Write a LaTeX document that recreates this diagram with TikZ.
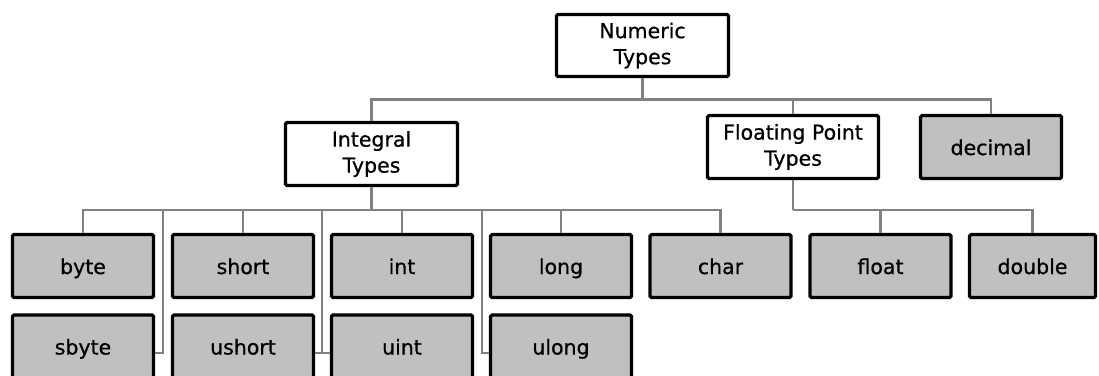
\documentclass[tikz,border=0pt]{standalone}
\usepackage{fontspec}
\setmainfont{DejaVu Sans}[FakeBold=0.7]
\definecolor{leafgray}{RGB}{192,192,192}
\definecolor{linkgray}{RGB}{128,128,128}

\begin{document}
\begin{tikzpicture}[x=1pt,y=-1pt,
			font=\fontsize{20.5}{26}\selectfont,
			group/.style={draw,line width=3.2pt,rounded corners=1.5pt,fill=white,
				align=center,inner sep=0pt},
			leaf/.style={group,fill=leafgray,minimum width=141pt,minimum height=63pt,
				text height=16pt,text depth=0pt},
			link/.style={draw=linkgray,line width=2.8pt}]
			\path[use as bounding box,clip] (0,0) rectangle (1099,375);

			\node[group,minimum width=172pt,minimum height=62pt] (num) at (642.5,45.5) {Numeric\\Types};
			\node[group,minimum width=172pt,minimum height=63pt] (integral) at (371.5,154) {Integral\\Types};
			\node[group,minimum width=171pt,minimum height=63pt] (floating) at (793,147) {Floating Point\\Types};
			\node[leaf] (decimal) at (991,147) {decimal};

			\node[leaf] (byte)   at (83,266)    {byte};
			\node[leaf] (short)  at (243,266)   {short};
			\node[leaf] (int)    at (402,266)   {int};
			\node[leaf] (long)   at (561,266)   {long};
			\node[leaf] (char)   at (720.5,266) {char};
			\node[leaf] (float)  at (880.5,266) {float};
			\node[leaf,minimum width=126pt] (double) at (1032.5,266) {double};

			\node[leaf] (sbyte)  at (83,346.5)  {sbyte};
			\node[leaf] (ushort) at (243,346.5) {ushort};
			\node[leaf] (uint)   at (402,346.5) {uint};
			\node[leaf] (ulong)  at (561,346.5) {ulong};

			\coordinate (topbus) at (642.5,99.5);
			\coordinate (intbus) at (371.5,210);
			\coordinate (fltbus) at (793,210);
			\coordinate (sbytejoin) at (163,210);
			\coordinate (ushortjoin) at (322,210);
			\coordinate (ulongjoin) at (482,210);

			\path[link]
				(num.south) -- (topbus)
				(integral.north) |- (topbus)
				(floating.north) |- (topbus)
				(decimal.north) |- (topbus)
				(integral.south) -- (intbus)
				(byte.north) |- (intbus)
				(short.north) |- (intbus)
				(int.north) |- (intbus)
				(long.north) |- (intbus)
				(char.north) |- (intbus)
				(sbytejoin) |- ([yshift=-6.5pt]sbyte.east)
				(ushortjoin) |- ([yshift=-6.5pt]ushort.east)
				(ushortjoin) |- ([yshift=-6.5pt]uint.west)
				(ulongjoin) |- ([yshift=-6.5pt]ulong.west)
				(floating.south) -- (fltbus)
				(float.north) |- (fltbus)
				(double.north) |- (fltbus)
			;
\end{tikzpicture}
\end{document}
